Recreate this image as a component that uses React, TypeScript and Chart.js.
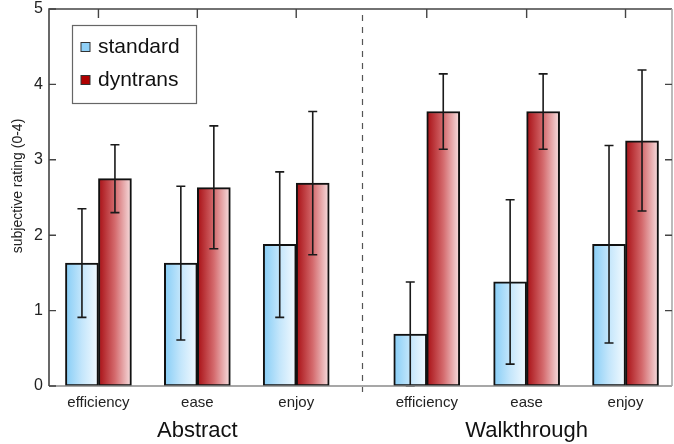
import React, { useEffect, useRef } from "react";
import { Chart, registerables } from "chart.js";

Chart.register(...registerables);

// ---- data ----
const categories = ["efficiency", "ease", "enjoy", "efficiency", "ease", "enjoy"];
const positions = [1, 2, 3, 4.32, 5.33, 6.33];
const groups = ["Abstract", "Walkthrough"];
const groupPositions = [2, 5.33];
const separatorPos = 3.67;
const seriesNames = ["standard", "dyntrans"];
const standardMean = [1.63, 1.63, 1.88, 0.69, 1.38, 1.88];
const standardLow = [0.91, 0.61, 0.91, 0.0, 0.29, 0.57];
const standardHigh = [2.35, 2.65, 2.84, 1.38, 2.47, 3.19];
const dyntransMean = [2.75, 2.63, 2.69, 3.64, 3.64, 3.25];
const dyntransLow = [2.3, 1.82, 1.74, 3.14, 3.14, 2.32];
const dyntransHigh = [3.2, 3.45, 3.64, 4.14, 4.14, 4.19];
const yTicks = [0, 1, 2, 3, 4, 5];
const yTitle = "subjective rating (0-4)";

// ---- styles ----
const BAR = 33;
const FONT = "Arial, 'Liberation Sans', Helvetica, sans-serif";
const standardStops = ["#86cdf6", "#c4e6fb", "#f3faff"];
const dyntransStops = ["#a80f14", "#d46a6d", "#f7e0e1"];
const swatchColors = ["#8fd0f7", "#b00000"];

const gradFill = (stops: string[], side: number) => (ctx: any) => {
  const chart = ctx.chart;
  const xs = chart.scales && chart.scales.x;
  if (!xs || ctx.type !== "data" || !chart.chartArea) return stops[0];
  const c = xs.getPixelForValue(positions[ctx.dataIndex]);
  const x0 = side < 0 ? c - BAR : c;
  const g = chart.ctx.createLinearGradient(x0, 0, x0 + BAR, 0);
  stops.forEach((s, k) => g.addColorStop(k / (stops.length - 1), s));
  return g;
};

const lows = [standardLow, dyntransLow];
const highs = [standardHigh, dyntransHigh];

const zeroPad = (s: any) => {
  s.paddingTop = 0;
  s.paddingBottom = 0;
  s.paddingLeft = 0;
  s.paddingRight = 0;
};

const decorPlugin = {
  id: "decor",
  afterDatasetsDraw(chart: any) {
    const ctx = chart.ctx;
    const ys = chart.scales.y;
    ctx.save();
    ctx.strokeStyle = "#1a1a1a";
    ctx.lineWidth = 1.6;
    chart.data.datasets.forEach((_: any, di: number) => {
      const meta = chart.getDatasetMeta(di);
      meta.data.forEach((el: any, j: number) => {
        const x = el.x;
        const yl = ys.getPixelForValue(lows[di][j]);
        const yh = ys.getPixelForValue(highs[di][j]);
        ctx.beginPath();
        ctx.moveTo(x, yl);
        ctx.lineTo(x, yh);
        ctx.moveTo(x - 4.5, yl);
        ctx.lineTo(x + 4.5, yl);
        ctx.moveTo(x - 4.5, yh);
        ctx.lineTo(x + 4.5, yh);
        ctx.stroke();
      });
    });
    ctx.restore();
  },
  afterDraw(chart: any) {
    const ctx = chart.ctx;
    const { left, right, top, bottom } = chart.chartArea;
    const xs = chart.scales.x;
    const ys = chart.scales.y;
    ctx.save();
    // separator
    const sx = Math.round(xs.getPixelForValue(separatorPos)) + 0.5;
    ctx.strokeStyle = "#555";
    ctx.lineWidth = 1.2;
    ctx.setLineDash([6, 6]);
    ctx.beginPath();
    ctx.moveTo(sx, top + 6);
    ctx.lineTo(sx, bottom + 6);
    ctx.stroke();
    ctx.setLineDash([]);
    // frame
    ctx.lineWidth = 1.6;
    ctx.strokeStyle = "#8a8a8a";
    ctx.beginPath();
    ctx.moveTo(left, bottom);
    ctx.lineTo(right, bottom);
    ctx.stroke();
    ctx.strokeStyle = "#444";
    ctx.beginPath();
    ctx.moveTo(left, bottom);
    ctx.lineTo(left, top);
    ctx.lineTo(right, top);
    ctx.stroke();
    ctx.strokeStyle = "#aaa";
    ctx.beginPath();
    ctx.moveTo(right, top);
    ctx.lineTo(right, bottom);
    ctx.stroke();
    // inward ticks
    ctx.strokeStyle = "#444";
    ctx.lineWidth = 1.4;
    ctx.beginPath();
    yTicks.forEach((v) => {
      const y = ys.getPixelForValue(v);
      ctx.moveTo(left, y);
      ctx.lineTo(left + 7, y);
      if (v > 0 && v < 5) {
        ctx.moveTo(right, y);
        ctx.lineTo(right - 7, y);
      }
    });
    positions.forEach((p) => {
      const x = xs.getPixelForValue(p);
      ctx.moveTo(x, top);
      ctx.lineTo(x, top + 9);
    });
    ctx.stroke();
    // y title
    ctx.save();
    ctx.translate(18, 186);
    ctx.rotate(-Math.PI / 2);
    ctx.font = `14px ${FONT}`;
    ctx.fillStyle = "#222";
    ctx.textAlign = "center";
    ctx.textBaseline = "middle";
    ctx.fillText(yTitle, 0, 0);
    ctx.restore();
    // legend
    const lx = 72.5, ly = 25.5, lw = 124, lh = 78;
    ctx.fillStyle = "#fff";
    ctx.fillRect(lx, ly, lw, lh);
    ctx.strokeStyle = "#666";
    ctx.lineWidth = 1.2;
    ctx.strokeRect(lx, ly, lw, lh);
    ctx.font = `21px ${FONT}`;
    ctx.textBaseline = "middle";
    ctx.textAlign = "left";
    chart.data.datasets.forEach((ds: any, i: number) => {
      const cy = 47 + i * 33;
      ctx.fillStyle = swatchColors[i];
      ctx.fillRect(81, cy - 4.5, 9, 9);
      ctx.strokeStyle = "#333";
      ctx.lineWidth = 1;
      ctx.strokeRect(81, cy - 4.5, 9, 9);
      ctx.fillStyle = "#111";
      ctx.fillText(ds.label, 98, cy);
    });
    ctx.restore();
  },
};

export default function App() {
  const ref = useRef<HTMLCanvasElement | null>(null);
  useEffect(() => {
    if (!ref.current) return;
    const chart = new Chart(ref.current, {
      type: "bar",
      data: {
        datasets: [
          {
            label: seriesNames[0],
            data: positions.map((p, i) => ({ x: p, y: standardMean[i] })),
            backgroundColor: gradFill(standardStops, -1),
            borderColor: "#111",
            borderWidth: 2,
            borderSkipped: false,
            barThickness: BAR,
          },
          {
            label: seriesNames[1],
            data: positions.map((p, i) => ({ x: p, y: dyntransMean[i] })),
            backgroundColor: gradFill(dyntransStops, 1),
            borderColor: "#111",
            borderWidth: 2,
            borderSkipped: false,
            barThickness: BAR,
          },
        ],
      } as any,
      options: {
        animation: false,
        responsive: false,
        maintainAspectRatio: false,
        layout: { padding: { top: 9, right: 2, left: 0, bottom: 0 } },
        plugins: { legend: { display: false }, tooltip: { enabled: false } },
        scales: {
          x: {
            type: "linear",
            position: "bottom",
            offset: false,
            min: 0.5,
            max: 6.8,
            grid: { display: false, drawTicks: false, offset: false },
            border: { display: false },
            afterBuildTicks: (s: any) => {
              s.ticks = positions.map((v) => ({ value: v }));
            },
            afterFit: (s: any) => {
              s.height = 28;
              zeroPad(s);
            },
            ticks: {
              autoSkip: false,
              maxRotation: 0,
              padding: 8,
              color: "#222",
              font: { family: FONT, size: 15 },
              callback: (_v: any, i: number) => categories[i],
            },
          },
          x2: {
            type: "linear",
            position: "bottom",
            offset: false,
            min: 0.5,
            max: 6.8,
            grid: { display: false, drawTicks: false, offset: false },
            border: { display: false },
            afterBuildTicks: (s: any) => {
              s.ticks = groupPositions.map((v) => ({ value: v }));
            },
            afterFit: (s: any) => {
              s.height = 30;
              zeroPad(s);
            },
            ticks: {
              autoSkip: false,
              maxRotation: 0,
              padding: 4,
              color: "#111",
              font: { family: FONT, size: 22 },
              callback: (_v: any, i: number) => groups[i],
            },
          },
          y: {
            type: "linear",
            min: 0,
            max: 5,
            grid: { display: false, drawTicks: false },
            border: { display: false },
            afterBuildTicks: (s: any) => {
              s.ticks = yTicks.map((v) => ({ value: v }));
            },
            afterFit: (s: any) => {
              s.width = 49;
              zeroPad(s);
            },
            ticks: {
              padding: 6,
              color: "#222",
              font: { family: FONT, size: 16 },
            },
          },
        },
      } as any,
      plugins: [decorPlugin],
    });
    return () => chart.destroy();
  }, []);
  return (
    <div style={{ position: "absolute", left: 0, top: 0, width: 674, height: 444, background: "#fff" }}>
      <canvas ref={ref} width={674} height={444} style={{ display: "block", width: 674, height: 444 }} />
    </div>
  );
}
